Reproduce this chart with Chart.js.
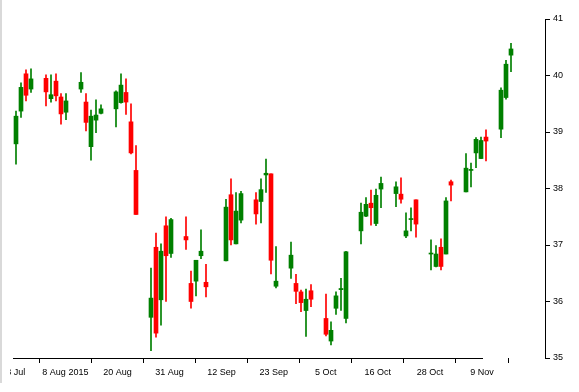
<!DOCTYPE html>
<html>
<head>
<meta charset="utf-8">
<script src="https://cdn.jsdelivr.net/npm/chart.js@4"></script>
<style>
  html, body { margin: 0; padding: 0; background: #fff; overflow: hidden; }
  body { width: 579px; height: 392px; position: relative; }
  .wrap { position: absolute; left: -40px; top: 0; width: 619px; height: 392px; }
  .edge { position: absolute; left: 0; top: 0; width: 2px; height: 383px; background: #d9d9d9; }
  .cut { position: absolute; left: 2px; top: 362px; width: 8px; height: 20px; background: #fff; }
</style>
</head>
<body>
<div class="wrap"><canvas id="chart"></canvas></div>
<div class="cut"></div>
<div class="edge"></div>
<script>
// trading days shown
const dates = [
  '2015-07-28','2015-07-29','2015-07-30','2015-07-31',
  '2015-08-03','2015-08-04','2015-08-05','2015-08-06','2015-08-07',
  '2015-08-10','2015-08-11','2015-08-12','2015-08-13','2015-08-14',
  '2015-08-17','2015-08-18','2015-08-19','2015-08-20','2015-08-21',
  '2015-08-24','2015-08-25','2015-08-26','2015-08-27','2015-08-28',
  '2015-08-31','2015-09-01','2015-09-02','2015-09-03','2015-09-04',
  '2015-09-08','2015-09-09','2015-09-10','2015-09-11',
  '2015-09-14','2015-09-15','2015-09-16','2015-09-17','2015-09-18',
  '2015-09-21','2015-09-22','2015-09-23','2015-09-24','2015-09-25',
  '2015-09-28','2015-09-29','2015-09-30','2015-10-01','2015-10-02',
  '2015-10-05','2015-10-06','2015-10-07','2015-10-08','2015-10-09',
  '2015-10-12','2015-10-13','2015-10-14','2015-10-15','2015-10-16',
  '2015-10-19','2015-10-20','2015-10-21','2015-10-22','2015-10-23',
  '2015-10-26','2015-10-27','2015-10-28','2015-10-29','2015-10-30',
  '2015-11-02','2015-11-03','2015-11-04'
];

const open = [
  38.79, 39.37, 40.03, 39.76,
  39.95, 39.59, 39.90, 39.62, 39.35,
  39.76, 39.53, 38.74, 39.21, 39.33,
  39.41, 39.52, 39.70, 39.18, 38.32,
  35.72, 36.96, 36.03, 37.34, 36.85,
  37.15, 36.32, 36.36, 36.81, 36.34,
  36.72, 37.89, 37.02, 37.44,
  37.80, 37.77, 38.24, 38.26, 36.27,
  36.59, 36.32, 36.17, 35.84, 36.19,
  35.70, 35.30, 35.88, 36.21, 35.70,
  37.25, 37.51, 37.74, 37.38, 37.99,
  37.91, 37.90, 37.16, 37.45, 37.80,
  36.84, 36.62, 36.96, 36.84, 38.12,
  37.94, 38.32, 38.63, 38.53, 38.91,
  39.05, 39.61, 40.36
];
const high = [
  39.37, 39.87, 40.10, 40.12,
  40.01, 40.01, 40.03, 39.68, 39.68,
  40.05, 39.68, 39.39, 39.57, 39.48,
  39.73, 40.03, 39.94, 39.50, 38.76,
  36.59, 37.21, 37.02, 37.50, 37.47,
  37.50, 36.54, 36.73, 37.27, 36.66,
  37.81, 38.17, 37.93, 37.95,
  37.93, 38.17, 38.52, 38.26, 36.97,
  37.05, 36.48, 36.20, 36.22, 36.30,
  36.13, 35.64, 36.17, 36.41, 36.89,
  37.74, 37.84, 37.97, 37.99, 38.20,
  38.12, 38.19, 37.57, 37.66, 37.80,
  37.09, 36.99, 37.11, 37.84, 38.15,
  38.62, 38.45, 38.90, 38.91, 39.04,
  39.78, 40.27, 40.57
];
const low = [
  38.43, 39.26, 39.55, 39.70,
  39.46, 39.53, 39.55, 39.14, 39.22,
  39.70, 39.02, 38.50, 38.99, 39.32,
  39.09, 39.51, 39.31, 38.61, 37.54,
  35.13, 35.37, 35.58, 36.00, 36.78,
  36.92, 35.88, 36.10, 36.76, 36.08,
  36.72, 37.00, 37.02, 37.39,
  37.37, 37.39, 37.93, 36.49, 36.24,
  36.41, 35.96, 35.82, 35.38, 35.91,
  35.39, 35.23, 35.77, 35.84, 35.62,
  37.02, 37.50, 37.35, 37.34, 37.66,
  37.68, 37.74, 37.13, 37.25, 37.14,
  36.56, 36.61, 36.56, 36.84, 37.78,
  37.94, 38.03, 38.37, 38.53, 38.49,
  38.90, 39.58, 40.07
];
const close = [
  39.28, 39.79, 39.65, 39.94,
  39.71, 39.66, 39.64, 39.32, 39.55,
  39.88, 39.17, 39.28, 39.30, 39.41,
  39.71, 39.83, 39.53, 38.63, 37.54,
  36.06, 35.44, 36.89, 36.81, 37.45,
  37.09, 36.00, 36.73, 36.89, 36.26,
  37.67, 37.09, 37.60, 37.91,
  37.55, 37.98, 38.27, 36.73, 36.36,
  36.82, 36.18, 35.98, 36.04, 36.04,
  35.42, 35.49, 36.10, 36.23, 36.88,
  37.58, 37.72, 37.66, 37.88, 38.09,
  38.03, 37.81, 37.25, 37.46, 37.37,
  36.85, 36.84, 36.62, 37.78, 38.06,
  38.36, 38.33, 38.87, 38.85, 38.84,
  39.74, 40.20, 40.47
];

// x axis labels (evenly spaced on the axis)
const tickLabels = ['28 Jul', '8 Aug 2015', '20 Aug', '31 Aug', '12 Sep', '23 Sep', '5 Oct', '16 Oct', '28 Oct', '9 Nov'];
const yTicks = [35, 36, 37, 38, 39, 40, 41];

const AXIS_FROM = -0.54;   // day position of first x tick
const AXIS_TO = 93.2;      // day position of last x tick

const GREEN = '#008000';
const RED = '#ff0000';

const t0 = Date.parse(dates[0]);
const days = dates.map(d => Math.round((Date.parse(d) - t0) / 86400000));

const tickDays = tickLabels.map((l, i) => AXIS_FROM + i * (AXIS_TO - AXIS_FROM) / (tickLabels.length - 1));

const colorFor = ctx => close[ctx.dataIndex] >= open[ctx.dataIndex] ? GREEN : RED;

// x axis line only runs between first and last tick
const xLine = {
  id: 'xLine',
  afterDraw(chart) {
    const s = chart.scales.x;
    const ctx = chart.ctx;
    const y = Math.round(s.top - 0.5) + 0.5;
    const a = Math.round(s.getPixelForValue(tickDays[0]) - 0.5);
    const b = Math.round(s.getPixelForValue(tickDays[tickDays.length - 1]) - 0.5) + 1;
    ctx.save();
    ctx.strokeStyle = '#000';
    ctx.lineWidth = 1;
    ctx.beginPath();
    ctx.moveTo(a, y);
    ctx.lineTo(b, y);
    ctx.stroke();
    ctx.restore();
  }
};

const font = { family: '"Liberation Sans", Arial, sans-serif', size: 9 };

new Chart(document.getElementById('chart'), {
  type: 'bar',
  data: {
    datasets: [
      {
        label: 'body',
        data: days.map((d, i) => ({ x: d, y: [open[i], close[i]] })),
        backgroundColor: colorFor,
        barThickness: 4,
        minBarLength: 1,
        grouped: false,
        clip: false
      },
      {
        label: 'wick',
        data: days.map((d, i) => ({ x: d, y: [low[i], high[i]] })),
        backgroundColor: colorFor,
        barThickness: 1,
        grouped: false,
        clip: false
      }
    ]
  },
  options: {
    responsive: true,
    maintainAspectRatio: false,
    animation: false,
    layout: { padding: { left: 40, top: 19, right: 0, bottom: 0 } },
    plugins: { legend: { display: false }, tooltip: { enabled: false } },
    scales: {
      x: {
        type: 'linear',
        min: -3.2,
        max: 105.8,
        offset: false,
        border: { display: false },
        grid: { drawOnChartArea: false, drawTicks: true, tickLength: 5, color: '#000' },
        afterBuildTicks: s => { s.ticks = tickDays.map(v => ({ value: v })); },
        afterFit: s => { s.height = 34; },
        ticks: {
          autoSkip: false,
          maxRotation: 0,
          padding: 4,
          color: '#000',
          font,
          callback: (v, i) => tickLabels[i]
        }
      },
      y: {
        position: 'right',
        min: 35,
        max: 41,
        border: { display: true, color: '#000', width: 1 },
        grid: { drawOnChartArea: false, drawTicks: true, tickLength: 5, color: '#000' },
        afterBuildTicks: s => { s.ticks = yTicks.map(v => ({ value: v })); },
        afterFit: s => { s.width = 34; },
        ticks: { padding: 3, color: '#000', font }
      }
    }
  },
  plugins: [xLine]
});
</script>
</body>
</html>
